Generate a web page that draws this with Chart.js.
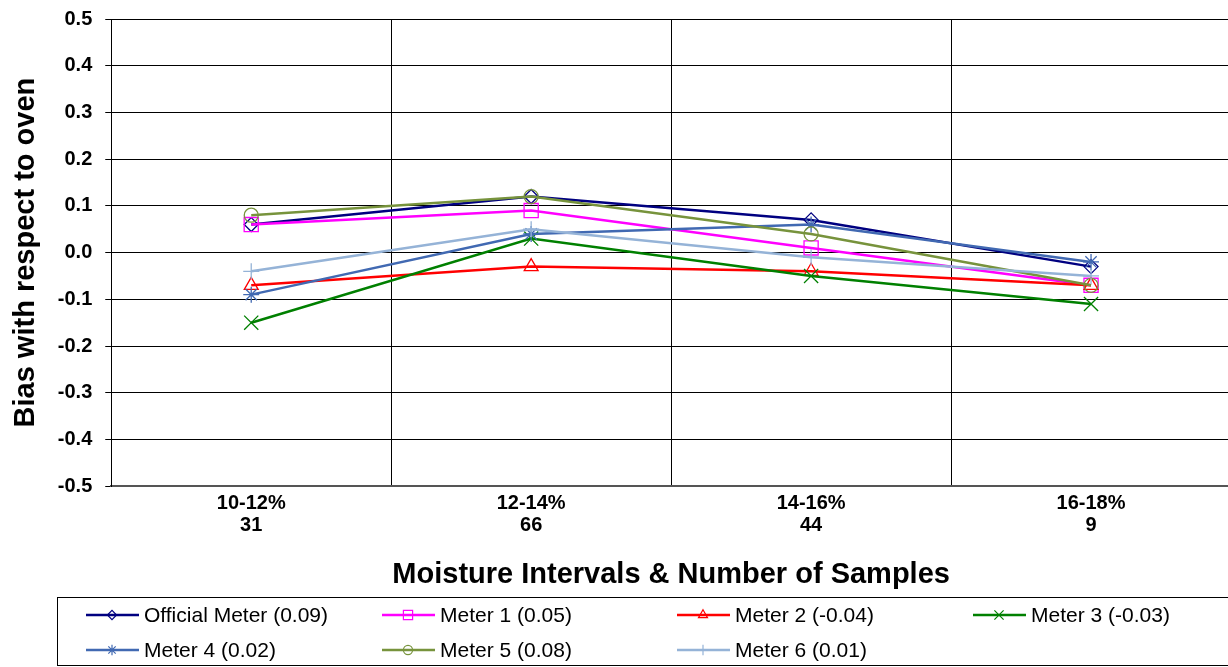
<!DOCTYPE html>
<html>
<head>
<meta charset="utf-8">
<script src="https://cdn.jsdelivr.net/npm/chart.js@4"></script>
<style>
  html, body { margin: 0; padding: 0; background: #fff; overflow: hidden; }
  #wrap { position: absolute; left: 0; top: -6px; width: 1232px; height: 673px; }
</style>
</head>
<body>
<div id="wrap"><canvas id="chart" width="1232" height="673"></canvas></div>
<script>
// Moisture meter bias chart
const categories = [['10-12%', '31'], ['12-14%', '66'], ['14-16%', '44'], ['16-18%', '9']];
const yTicks = [-0.5, -0.4, -0.3, -0.2, -0.1, 0.0, 0.1, 0.2, 0.3, 0.4, 0.5];

const seriesNames = [
    'Official Meter (0.09)', 'Meter 1 (0.05)', 'Meter 2 (-0.04)', 'Meter 3 (-0.03)',
    'Meter 4 (0.02)', 'Meter 5 (0.08)', 'Meter 6 (0.01)'
];
const officialMeter = [0.06, 0.12, 0.07, -0.03];
const meter1 = [0.06, 0.09, 0.01, -0.07];
const meter2 = [-0.07, -0.03, -0.04, -0.07];
const meter3 = [-0.15, 0.03, -0.05, -0.11];
const meter4 = [-0.09, 0.04, 0.06, -0.02];
const meter5 = [0.08, 0.12, 0.04, -0.07];
const meter6 = [-0.04, 0.05, -0.01, -0.05];

const FONT = 'Arial, "Liberation Sans", sans-serif';

// colour, marker, marker radius for each series
const styles = [
    { color: '#000080', point: 'rectRot', r: 7 },
    { color: '#ff00ff', point: 'rect', r: 10 },
    { color: '#ff0000', point: 'triangle', r: 8 },
    { color: '#008000', point: 'crossRot', r: 10 },
    { color: '#4169b2', point: 'star', r: 8 },
    { color: '#77933c', point: 'circle', r: 7 },
    { color: '#95b3d7', point: 'cross', r: 8 }
];

const allSeries = [officialMeter, meter1, meter2, meter3, meter4, meter5, meter6];

const datasets = allSeries.map((values, i) => ({
    label: seriesNames[i],
    data: values,
    borderColor: styles[i].color,
    backgroundColor: 'rgba(0,0,0,0)',
    borderWidth: 2.5,
    pointStyle: styles[i].point,
    pointRadius: styles[i].r,
    pointBorderWidth: 1.3,
    pointBorderColor: styles[i].color,
    pointBackgroundColor: 'rgba(0,0,0,0)',
    tension: 0,
    order: allSeries.length - i
}));

// legend box at the bottom, laid out in a 4-column grid like the original
// (canvas is shifted up 6px, so these are canvas coordinates)
const legendCols = [86, 382, 677, 973];
const legendRows = [621, 656];

const boxLegend = {
    id: 'boxLegend',
    afterDraw(chart) {
        const ctx = chart.ctx;
        ctx.save();
        ctx.strokeStyle = '#000';
        ctx.lineWidth = 1;
        ctx.strokeRect(57.5, 603.5, 1200, 68);
        chart.data.datasets.forEach((ds, i) => {
            const x = legendCols[i % 4];
            const y = legendRows[Math.floor(i / 4)];
            ctx.strokeStyle = ds.borderColor;
            ctx.lineWidth = 2.5;
            ctx.beginPath();
            ctx.moveTo(x, y);
            ctx.lineTo(x + 53, y);
            ctx.stroke();
            ctx.lineWidth = 1.2;
            ctx.fillStyle = 'rgba(0,0,0,0)';
            Chart.helpers.drawPoint(ctx, {
                pointStyle: ds.pointStyle,
                radius: ds.pointRadius * 0.65,
                rotation: 0,
                borderWidth: 1.2
            }, x + 26, y);
            ctx.fillStyle = '#000';
            ctx.font = '21px ' + FONT;
            ctx.textBaseline = 'middle';
            ctx.textAlign = 'left';
            ctx.fillText(ds.label, x + 58, y + 1);
        });
        ctx.restore();
    }
};

new Chart(document.getElementById('chart'), {
    type: 'line',
    data: { labels: categories, datasets: datasets },
    plugins: [boxLegend],
    options: {
        responsive: false,
        animation: false,
        devicePixelRatio: 1,
        layout: { autoPadding: false, padding: { top: 13, left: 9, right: 1, bottom: 71 } },
        plugins: {
            legend: { display: false },
            tooltip: { enabled: false }
        },
        scales: {
            x: {
                offset: true,
                grid: { offset: true, color: '#000', lineWidth: 1, drawTicks: false },
                border: { color: '#555', width: 2 },
                ticks: {
                    color: '#000',
                    padding: 6,
                    font: { family: FONT, size: 20, weight: 'bold', lineHeight: 1.1 }
                },
                title: {
                    display: true,
                    text: 'Moisture Intervals & Number of Samples',
                    color: '#000',
                    font: { family: FONT, size: 29, weight: 'bold', lineHeight: 1.2 },
                    padding: { top: 15, bottom: 4 }
                }
            },
            y: {
                min: -0.5,
                max: 0.5,
                afterBuildTicks: (scale) => { scale.ticks = yTicks.map(v => ({ value: v })); },
                grid: { color: '#000', lineWidth: 1, drawTicks: true, tickLength: 6, tickColor: '#000' },
                border: { color: '#000', width: 1 },
                ticks: {
                    color: '#000',
                    padding: 13,
                    callback: (v) => Number(v).toFixed(1),
                    font: { family: FONT, size: 20, weight: 'bold' }
                },
                title: {
                    display: true,
                    text: 'Bias with respect to oven',
                    color: '#000',
                    font: { family: FONT, size: 29, weight: 'bold', lineHeight: 1.2 },
                    padding: { top: 0, bottom: 1 }
                }
            }
        }
    }
});
</script>
</body>
</html>
